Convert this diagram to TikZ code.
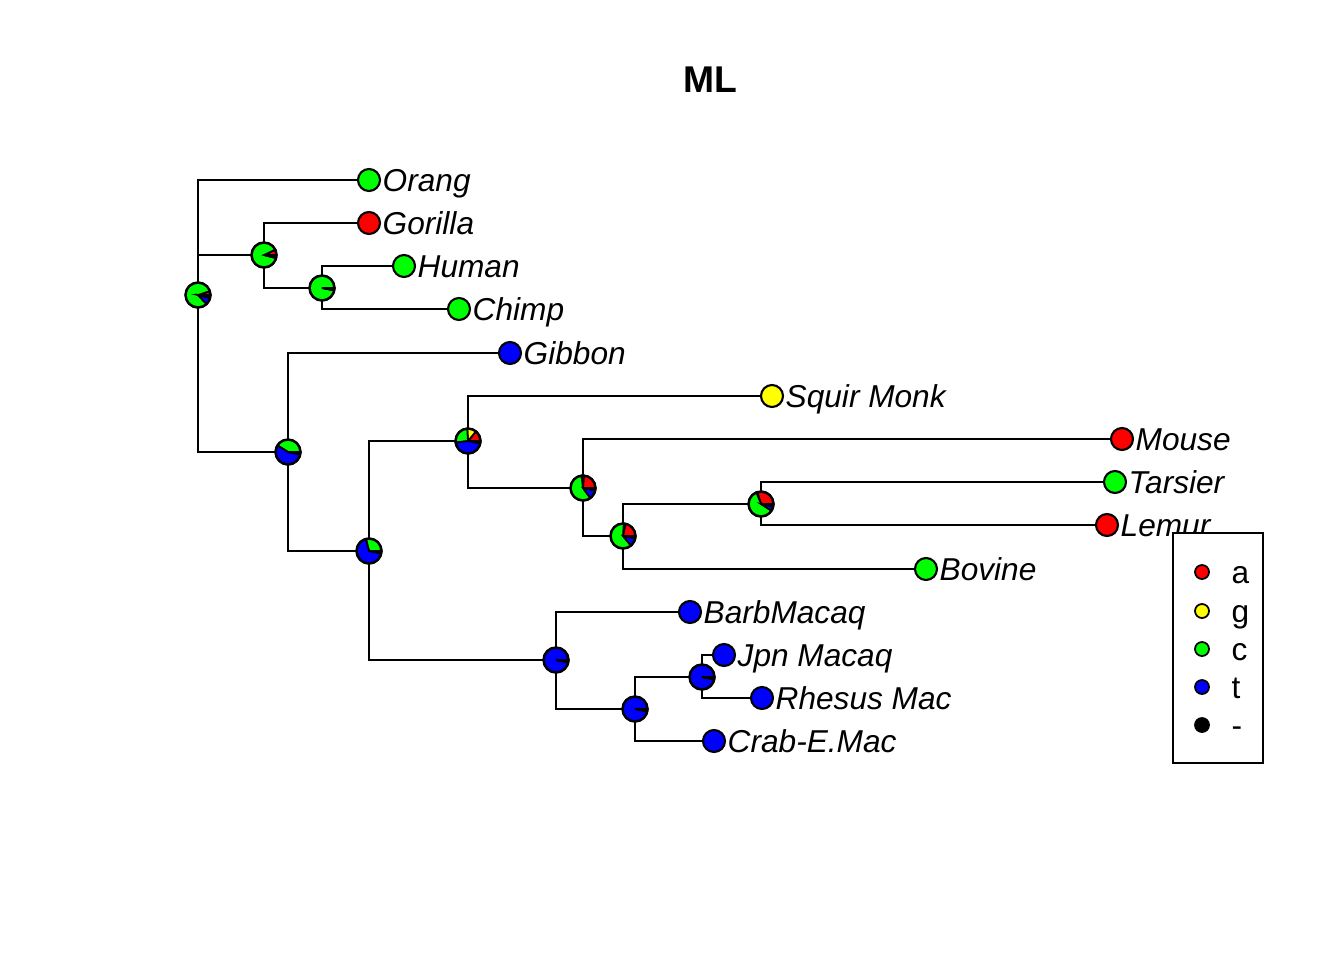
\documentclass[tikz,border=0pt]{standalone}
\usepackage{fontspec}
\setmainfont{Liberation Sans}

\definecolor{nta}{RGB}{255,0,0}
\definecolor{ntg}{RGB}{255,255,0}
\definecolor{ntc}{RGB}{0,255,0}
\definecolor{ntt}{RGB}{0,0,255}
\definecolor{ntgap}{RGB}{0,0,0}

\tikzset{
  tip/.style={circle, draw, line width=0.6pt, inner sep=0pt, minimum size=2.2mm},
  tiplab/.style={anchor=base west, inner sep=0pt, xshift=1.3mm, yshift=-1.1mm,
    font=\fontsize{9}{10}\selectfont\itshape},
  edge/.style={line width=0.6pt},
  slice/.style={draw=black, line width=0.5pt},
  keydot/.style={circle, draw, line width=0.5pt, inner sep=0pt, minimum size=1.4mm},
  keylab/.style={anchor=base west, inner sep=0pt, font=\fontsize{9}{10}\selectfont},
}

% pie at an internal node: fractions of a, g, c, t, -
\newcommand\nodepie[6]{%
  \pgfmathsetmacro\pa{360*#2}%
  \pgfmathsetmacro\pb{\pa+360*#3}%
  \pgfmathsetmacro\pc{\pb+360*#4}%
  \pgfmathsetmacro\pd{\pc+360*#5}%
  \filldraw[slice, fill=nta] (#1) -- ++(0:1.25mm) arc[start angle=0, end angle=\pa, radius=1.25mm] -- cycle;
  \filldraw[slice, fill=ntg] (#1) -- ++(\pa:1.25mm) arc[start angle=\pa, end angle=\pb, radius=1.25mm] -- cycle;
  \filldraw[slice, fill=ntc] (#1) -- ++(\pb:1.25mm) arc[start angle=\pb, end angle=\pc, radius=1.25mm] -- cycle;
  \filldraw[slice, fill=ntt] (#1) -- ++(\pc:1.25mm) arc[start angle=\pc, end angle=\pd, radius=1.25mm] -- cycle;
  \filldraw[slice, fill=ntgap] (#1) -- ++(\pd:1.25mm) arc[start angle=\pd, end angle=360, radius=1.25mm] -- cycle;
  \draw[line width=0.7pt] (#1) circle[radius=1.25mm];
}

\begin{document}
\begin{tikzpicture}[x=0.1mm, y=-0.1mm]
  \useasboundingbox (0,0) rectangle (1344,960);

  % titel
  \node[font=\bfseries\fontsize{10.6}{12}\selectfont] (title) at (710,80) {ML};

  % inwendige knopen
  \coordinate (root) at (198,295);
  \coordinate (nA) at (264,255);
  \coordinate (nB) at (322,288);
  \coordinate (nC) at (288,452);
  \coordinate (nD) at (369,551);
  \coordinate (nE) at (468,441);
  \coordinate (nF) at (583,488);
  \coordinate (nG) at (623,536);
  \coordinate (nH) at (761,504);
  \coordinate (nJ) at (556,660);
  \coordinate (nK) at (635,709);
  \coordinate (nL) at (702,677);

  % bladeren
  \node[tip, fill=ntc] (orang) at (369,180) {};
  \node[tip, fill=nta] (gorilla) at (369,223) {};
  \node[tip, fill=ntc] (human) at (404,266) {};
  \node[tip, fill=ntc] (chimp) at (459,309) {};
  \node[tip, fill=ntt] (gibbon) at (510,353) {};
  \node[tip, fill=ntg] (squir) at (772,396) {};
  \node[tip, fill=nta] (mouse) at (1122,439) {};
  \node[tip, fill=ntc] (tarsier) at (1115,482) {};
  \node[tip, fill=nta] (lemur) at (1107,525) {};
  \node[tip, fill=ntc] (bovine) at (926,569) {};
  \node[tip, fill=ntt] (barb) at (690,612) {};
  \node[tip, fill=ntt] (jpn) at (724,655) {};
  \node[tip, fill=ntt] (rhesus) at (762,698) {};
  \node[tip, fill=ntt] (crab) at (714,741) {};

  \node[tiplab] (lOrang) at (orang.center) {Orang};
  \node[tiplab] (lGorilla) at (gorilla.center) {Gorilla};
  \node[tiplab] (lHuman) at (human.center) {Human};
  \node[tiplab] (lChimp) at (chimp.center) {Chimp};
  \node[tiplab] (lGibbon) at (gibbon.center) {Gibbon};
  \node[tiplab] (lSquir) at (squir.center) {Squir Monk};
  \node[tiplab] (lMouse) at (mouse.center) {Mouse};
  \node[tiplab] (lTarsier) at (tarsier.center) {Tarsier};
  \node[tiplab] (lLemur) at (lemur.center) {Lemur};
  \node[tiplab] (lBovine) at (bovine.center) {Bovine};
  \node[tiplab] (lBarb) at (barb.center) {BarbMacaq};
  \node[tiplab] (lJpn) at (jpn.center) {Jpn Macaq};
  \node[tiplab] (lRhesus) at (rhesus.center) {Rhesus Mac};
  \node[tiplab] (lCrab) at (crab.center) {Crab-E.Mac};

  % takken
  \draw[edge] (root) |- (orang);
  \draw[edge] (root) |- (nA);
  \draw[edge] (root) |- (nC);
  \draw[edge] (nA) |- (gorilla);
  \draw[edge] (nA) |- (nB);
  \draw[edge] (nB) |- (human);
  \draw[edge] (nB) |- (chimp);
  \draw[edge] (nC) |- (gibbon);
  \draw[edge] (nC) |- (nD);
  \draw[edge] (nD) |- (nE);
  \draw[edge] (nD) |- (nJ);
  \draw[edge] (nE) |- (squir);
  \draw[edge] (nE) |- (nF);
  \draw[edge] (nF) |- (mouse);
  \draw[edge] (nF) |- (nG);
  \draw[edge] (nG) |- (nH);
  \draw[edge] (nG) |- (bovine);
  \draw[edge] (nH) |- (tarsier);
  \draw[edge] (nH) |- (lemur);
  \draw[edge] (nJ) |- (barb);
  \draw[edge] (nJ) |- (nK);
  \draw[edge] (nK) |- (nL);
  \draw[edge] (nK) |- (crab);
  \draw[edge] (nL) |- (jpn);
  \draw[edge] (nL) |- (rhesus);

  % taartjes
  \nodepie{root}{0.05}{0}{0.82}{0.09}{0.04}
  \nodepie{nA}{0.07}{0}{0.89}{0.01}{0.03}
  \nodepie{nB}{0}{0}{0.97}{0}{0.03}
  \nodepie{nC}{0}{0}{0.41}{0.56}{0.03}
  \nodepie{nD}{0}{0}{0.29}{0.68}{0.03}
  \nodepie{nE}{0.14}{0.12}{0.26}{0.45}{0.03}
  \nodepie{nF}{0.24}{0.03}{0.58}{0.12}{0.03}
  \nodepie{nG}{0.22}{0.02}{0.62}{0.11}{0.03}
  \nodepie{nH}{0.30}{0.01}{0.60}{0.06}{0.03}
  \nodepie{nJ}{0}{0}{0}{0.97}{0.03}
  \nodepie{nK}{0}{0}{0}{0.97}{0.03}
  \nodepie{nL}{0}{0}{0}{0.97}{0.03}

  % legenda
  \draw[line width=0.5pt, fill=white] (1173,533) rectangle (1263,763);
  \node[keydot, fill=nta] (ka) at (1202,572) {};
  \node[keydot, fill=ntg] (kg) at (1202,611) {};
  \node[keydot, fill=ntc] (kc) at (1202,649) {};
  \node[keydot, fill=ntt] (kt) at (1202,687) {};
  \node[keydot, fill=ntgap] (kgap) at (1202,725) {};
  \node[keylab] (la) at (1231,583) {a};
  \node[keylab] (lg) at (1231,622) {g};
  \node[keylab] (lc) at (1231,660) {c};
  \node[keylab] (lt) at (1231,698) {t};
  \node[keylab] (lgap) at (1231,736) {-};
\end{tikzpicture}
\end{document}
